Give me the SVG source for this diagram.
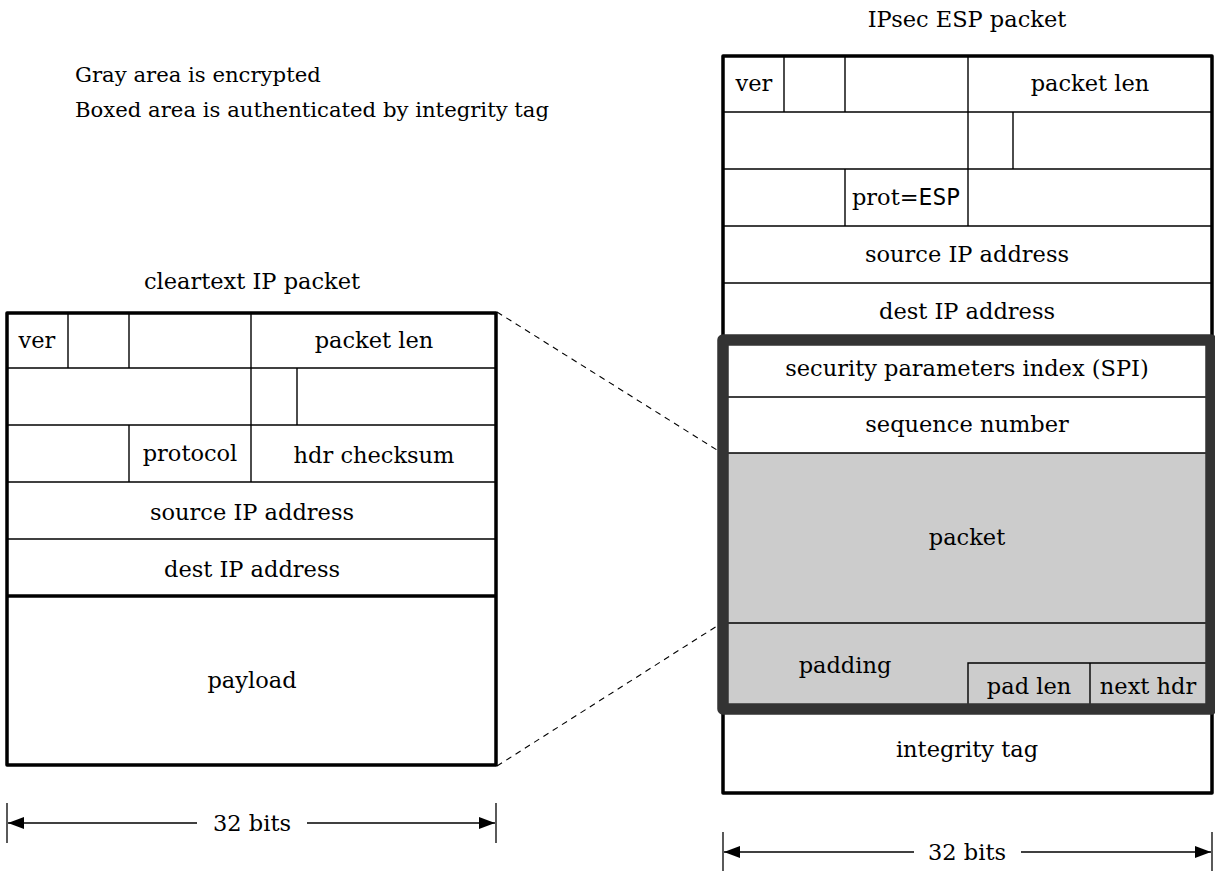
<svg xmlns="http://www.w3.org/2000/svg" width="1215" height="876" viewBox="0 0 1215 876">
<style>
.c{text-anchor:middle;}
.thin{stroke:#000;stroke-width:1.4;fill:none;}
.thick{stroke:#000;stroke-width:3.5;fill:none;stroke-linejoin:round;}
.dash{stroke:#000;stroke-width:1.1;stroke-dasharray:6,5;fill:none;}
.dim{stroke:#000;stroke-width:1.3;fill:none;}
</style>
<defs>
<marker id="ah" markerWidth="16" markerHeight="12" refX="16" refY="6" orient="auto-start-reverse" markerUnits="userSpaceOnUse">
<path d="M0,0 L16,6 L0,12 Z" fill="#000"/>
</marker>
</defs>
<rect width="1215" height="876" fill="#fff"/>
<g font-family="'DejaVu Serif', 'Liberation Serif', serif" font-size="22.5" fill="#000">
<g id="legend" font-size="21.2">
<text x="75" y="82">Gray area is encrypted</text>
<text x="75" y="117">Boxed area is authenticated by integrity tag</text>
</g>
<g id="connectors">
<line class="dash" x1="497" y1="312" x2="717" y2="450"/>
<line class="dash" x1="497" y1="766" x2="717" y2="626"/>
</g>
<g id="cleartext">
<text class="c" x="252" y="289">cleartext IP packet</text>
<line class="thin" x1="7" y1="368" x2="496" y2="368"/>
<line class="thin" x1="7" y1="425" x2="496" y2="425"/>
<line class="thin" x1="7" y1="482" x2="496" y2="482"/>
<line class="thin" x1="7" y1="539" x2="496" y2="539"/>
<line class="thin" x1="68" y1="313" x2="68" y2="368"/>
<line class="thin" x1="129" y1="313" x2="129" y2="368"/>
<line class="thin" x1="251" y1="313" x2="251" y2="482"/>
<line class="thin" x1="297" y1="368" x2="297" y2="425"/>
<line class="thin" x1="129" y1="425" x2="129" y2="482"/>
<line class="thick" x1="7" y1="596" x2="496" y2="596"/>
<rect class="thick" x="7" y="313" width="489" height="452"/>
<text class="c" x="37" y="348">ver</text>
<text class="c" x="374" y="348">packet len</text>
<text class="c" x="190" y="461">protocol</text>
<text class="c" x="374" y="463">hdr checksum</text>
<text class="c" x="252" y="520">source IP address</text>
<text class="c" x="252" y="577">dest IP address</text>
<text class="c" x="252" y="688">payload</text>
</g>
<g id="dim-left">
<line class="dim" x1="7" y1="803" x2="7" y2="843"/>
<line class="dim" x1="496" y1="803" x2="496" y2="843"/>
<line class="dim" x1="8" y1="823" x2="197" y2="823" marker-start="url(#ah)"/>
<line class="dim" x1="307" y1="823" x2="495" y2="823" marker-end="url(#ah)"/>
<text class="c" x="252" y="831">32 bits</text>
</g>
<g id="esp">
<text class="c" x="967" y="27">IPsec ESP packet</text>
<rect x="723" y="453" width="489" height="255" fill="#cccccc"/>
<line class="thin" x1="723" y1="112" x2="1212" y2="112"/>
<line class="thin" x1="723" y1="169" x2="1212" y2="169"/>
<line class="thin" x1="723" y1="226" x2="1212" y2="226"/>
<line class="thin" x1="723" y1="283" x2="1212" y2="283"/>
<line class="thin" x1="784" y1="56" x2="784" y2="112"/>
<line class="thin" x1="845" y1="56" x2="845" y2="112"/>
<line class="thin" x1="968" y1="56" x2="968" y2="226"/>
<line class="thin" x1="1013" y1="112" x2="1013" y2="169"/>
<line class="thin" x1="845" y1="169" x2="845" y2="226"/>
<line class="thin" x1="723" y1="397" x2="1212" y2="397"/>
<line class="thin" x1="723" y1="453" x2="1212" y2="453"/>
<line class="thin" x1="723" y1="623" x2="1212" y2="623"/>
<path class="thin" d="M968,708 V663 H1206 M1090,663 V708"/>
<rect class="thick" x="723" y="56" width="489" height="737"/>
<rect x="723" y="340" width="488" height="369" fill="none" stroke="#333" stroke-width="11.5" stroke-linejoin="round"/>
<text class="c" x="754" y="91">ver</text>
<text class="c" x="1090" y="91">packet len</text>
<text class="c" x="906" y="205">prot=<tspan font-family="'DejaVu Sans Mono', 'Liberation Mono', monospace" font-size="23">ESP</tspan></text>
<text class="c" x="967" y="262">source IP address</text>
<text class="c" x="967" y="319">dest IP address</text>
<text class="c" x="967" y="376">security parameters index (SPI)</text>
<text class="c" x="967" y="432">sequence number</text>
<text class="c" x="967" y="545">packet</text>
<text class="c" x="845" y="673">padding</text>
<text class="c" x="1029" y="694">pad len</text>
<text class="c" x="1148" y="694">next hdr</text>
<text class="c" x="967" y="757">integrity tag</text>
</g>
<g id="dim-right">
<line class="dim" x1="723" y1="832" x2="723" y2="871"/>
<line class="dim" x1="1212" y1="832" x2="1212" y2="871"/>
<line class="dim" x1="724" y1="852" x2="914" y2="852" marker-start="url(#ah)"/>
<line class="dim" x1="1021" y1="852" x2="1211" y2="852" marker-end="url(#ah)"/>
<text class="c" x="967" y="860">32 bits</text>
</g>
</g>
</svg>
